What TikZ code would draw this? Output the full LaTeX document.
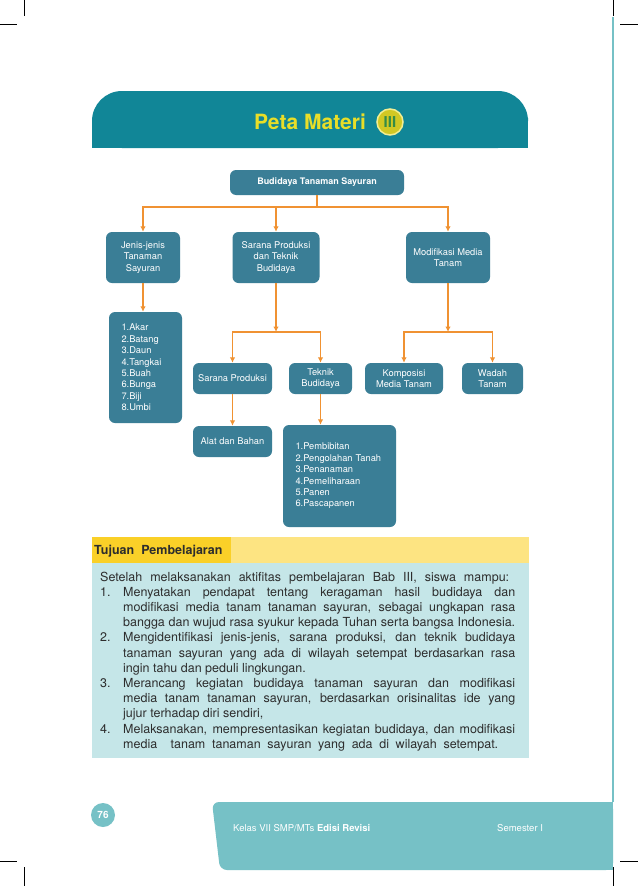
\documentclass[tikz,border=0pt]{standalone}
\usepackage{fontspec}
\setmainfont{TeX Gyre Heros}
\usetikzlibrary{arrows.meta}

\definecolor{bandteal}{RGB}{17,134,151}
\definecolor{boxblue}{RGB}{58,126,150}
\definecolor{arrow}{RGB}{240,146,50}
\definecolor{titleyellow}{RGB}{232,222,40}
\definecolor{romangreen}{RGB}{52,140,70}
\definecolor{tjdark}{RGB}{250,208,40}
\definecolor{tjlight}{RGB}{253,228,130}
\definecolor{tjbody}{RGB}{197,230,232}
\definecolor{footteal}{RGB}{118,193,198}
\definecolor{bodytext}{RGB}{45,45,45}

\newcommand{\jline}[1]{\makebox[392pt][s]{#1}}

\begin{document}
\begin{tikzpicture}[x=1pt, y=-1pt,
    box/.style={fill=boxblue, rounded corners=6pt, text=white, align=center,
                font=\fontsize{9.3}{11.6}\selectfont, inner sep=2pt},
    listbox/.style={box, align=left, inner xsep=12.5pt,
                font=\fontsize{9.3}{11.4}\selectfont},
    link/.style={draw=arrow, line width=1.2pt},
    flow/.style={link, -{Latex[length=5.5pt,width=5.5pt]}},
    body/.style={font=\fontsize{12.5}{15}\selectfont, text=bodytext,
                 inner sep=0pt, anchor=base west},
    crop/.style={draw=black, line width=0.8pt}
  ]

  % Page
  \fill[white] (0,0) rectangle (638,886);
  \useasboundingbox (0,0) rectangle (638,886);

  % Crop marks and page edge
  \draw[crop] (24,0) -- (24,16);   \draw[crop] (0,24) -- (17,24);
  \draw[crop] (613,0) -- (613,16); \draw[crop] (620,24) -- (638,24);
  \draw[crop] (0,861) -- (17,861); \draw[crop] (24,867) -- (24,886);
  \draw[crop] (620,861) -- (638,861); \draw[crop] (613,867) -- (613,886);
  \draw[footteal, line width=1.5pt] (613,17) -- (613,802);

  % Title band
  \fill[bandteal, rounded corners=30pt] (92,91) rectangle (528,148);
  \fill[bandteal] (92,120) rectangle (528,148);
  \node[text=titleyellow, font=\fontsize{21}{24}\selectfont\bfseries] (title) at (310,122) {Peta Materi};
  \node[circle, fill=titleyellow!90!black, draw=titleyellow!50!white, line width=1.5pt,
        minimum size=26pt, inner sep=0pt, text=romangreen,
        font=\fontsize{15}{15}\selectfont\bfseries] (chapter) at (390,122) {III};

  % Concept map, level 0 and 1
  \node[box, font=\fontsize{9}{11}\selectfont\bfseries, minimum width=174pt, minimum height=25pt]
    (root) at (317,182.5) {Budidaya Tanaman Sayuran};
  \node[box, minimum width=74pt, minimum height=51pt] (jenis) at (143,257.5) {Jenis-jenis\\Tanaman\\Sayuran};
  \node[box, minimum width=87pt, minimum height=51pt] (sarana) at (276,257.5) {Sarana Produksi\\dan Teknik\\Budidaya};
  \node[box, minimum width=84pt, minimum height=51pt] (modif) at (448,257.5) {Modifikasi Media\\Tanam};

  % Level 2
  \node[listbox, text width=48pt, minimum height=111pt] (parts) at (145.5,367.5)
    {1.Akar\\2.Batang\\3.Daun\\4.Tangkai\\5.Buah\\6.Bunga\\7.Biji\\8.Umbi};
  \node[box, minimum width=79pt, minimum height=31pt] (sprod) at (232.5,378.5) {Sarana Produksi};
  \node[box, minimum width=63pt, minimum height=31pt] (teknik) at (320.5,378.5) {Teknik\\Budidaya};
  \node[box, minimum width=78pt, minimum height=31pt] (kompos) at (404,378.5) {Komposisi\\Media Tanam};
  \node[box, minimum width=61pt, minimum height=31pt] (wadah) at (492.5,378.5) {Wadah\\Tanam};

  % Level 3
  \node[box, minimum width=79pt, minimum height=31pt] (alat) at (232.5,441.5) {Alat dan Bahan};
  \node[listbox, text width=88pt, minimum height=102pt] (tahap) at (339.5,476)
    {1.Pembibitan\\2.Pengolahan Tanah\\3.Penanaman\\4.Pemeliharaan\\5.Panen\\6.Pascapanen};

  % Connectors
  \coordinate (b0) at (317,207);
  \coordinate (b1) at (276,332);
  \coordinate (b2) at (448,332);
  \draw[link] (root.south) -- (b0);
  \draw[flow] (b0) -| (jenis.north);
  \draw[flow] (b0) -| (sarana.north);
  \draw[flow] (b0) -| (modif.north);
  \draw[flow] (jenis.south) -- (jenis.south |- parts.north);
  \draw[flow] (sarana.south) -- (b1);
  \draw[flow] (b1) -| (sprod.north);
  \draw[flow] (b1) -| (teknik.north);
  \draw[flow] (modif.south) -- (b2);
  \draw[flow] (b2) -| (kompos.north);
  \draw[flow] (b2) -| (wadah.north);
  \draw[flow] (sprod.south) -- (alat.north);
  \draw[flow] (teknik.south) -- (teknik.south |- tahap.north);

  % Tujuan Pembelajaran
  \fill[tjdark] (92,537) rectangle (231,563);
  \fill[tjlight] (231,537) rectangle (529,563);
  \fill[tjbody] (92,563) rectangle (529,758);
  \node[anchor=west, inner sep=0pt, text=bodytext, font=\fontsize{12.5}{14}\selectfont\bfseries]
    (tujuan) at (94,551) {Tujuan\ \ Pembelajaran};
  \node[body] (intro) at (100,581)
    {\makebox[409pt][s]{Setelah melaksanakan aktifitas pembelajaran Bab III, siswa mampu:}};
  \foreach \nr/\i in {1./1, 2./4, 3./7, 4./10}
    \node[body] (nr\i) at (100,{581+15.2*\i}) {\nr};
  \foreach \txt [count=\i] in {
      {\jline{Menyatakan pendapat tentang keragaman hasil budidaya dan}},
      {\jline{modifikasi media tanam tanaman sayuran, sebagai ungkapan rasa}},
      {\jline{bangga dan wujud rasa syukur kepada Tuhan serta bangsa Indonesia.}},
      {\jline{Mengidentifikasi jenis-jenis, sarana produksi, dan teknik budidaya}},
      {\jline{tanaman sayuran yang ada di wilayah setempat berdasarkan rasa}},
      {ingin tahu dan peduli lingkungan.},
      {\jline{Merancang kegiatan budidaya tanaman sayuran dan modifikasi}},
      {\jline{media tanam tanaman sayuran, berdasarkan orisinalitas ide yang}},
      {jujur terhadap diri sendiri,},
      {\jline{Melaksanakan, mempresentasikan kegiatan budidaya, dan modifikasi}},
      {\makebox[375pt][s]{media\ \ tanam tanaman sayuran yang ada di wilayah setempat.}}}
    \node[body] (line\i) at (123,{581+15.2*\i}) {\txt};

  % Footer
  \fill[footteal, rounded corners=7pt] (212,802) -- (613,802) -- (613,870) -- (220,870) -- cycle;
  \fill[footteal] (400,802) rectangle (613,870);
  \node[anchor=west, inner sep=0pt, text=white, font=\fontsize{9.5}{11}\selectfont]
    (kelas) at (233,828) {Kelas VII SMP/MTs \textbf{Edisi Revisi}};
  \node[anchor=west, inner sep=0pt, text=white, font=\fontsize{9.5}{11}\selectfont]
    (semester) at (497,828) {Semester I};
  \node[circle, fill=footteal, minimum size=24pt, inner sep=0pt, text=white,
        font=\fontsize{10}{10}\selectfont\bfseries] (page) at (103,815) {76};

\end{tikzpicture}
\end{document}
